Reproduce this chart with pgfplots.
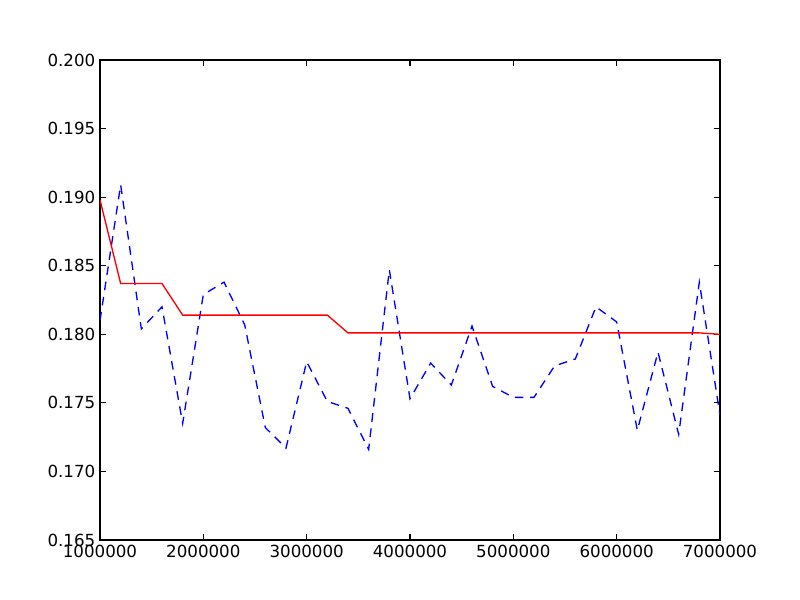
\documentclass[border=0pt]{standalone}
\usepackage{pgfplots}
\pgfplotsset{compat=1.18}
\usepackage{fontspec}
\setmainfont{DejaVu Sans}
\begin{document}
\begin{tikzpicture}
\begin{axis}[
  scale only axis,
  width=465pt, height=360pt,
  xmin=1000000, xmax=7000000,
  ymin=0.165, ymax=0.200,
  xtick={1000000,2000000,3000000,4000000,5000000,6000000,7000000},
  ytick={0.165,0.170,0.175,0.180,0.185,0.190,0.195,0.200},
  scaled x ticks=false, scaled y ticks=false,
  xticklabel style={/pgf/number format/fixed,/pgf/number format/1000 sep={}},
  yticklabel style={/pgf/number format/fixed,/pgf/number format/fixed zerofill,/pgf/number format/precision=3},
  /pgf/number format/assume math mode=true,
  tick label style={font=\fontsize{12.5}{15}\selectfont, text=black},
  tick align=inside,
  major tick length=4.2pt,
  tick style={black, line width=0.8pt},
  axis line style={black, line width=1pt},
  xtick pos=both, ytick pos=both,
  minor tick num=0,
  clip=true,
]
\addplot[blue, line width=1pt, dash pattern=on 6.5pt off 5pt] coordinates {
(1000000,0.1810) (1200000,0.1909) (1400000,0.1804) (1600000,0.1820)
(1800000,0.1735) (2000000,0.1829) (2200000,0.1838) (2400000,0.1807)
(2600000,0.1732) (2800000,0.1717) (3000000,0.1780) (3200000,0.1751)
(3400000,0.1746) (3600000,0.1716) (3800000,0.1847) (4000000,0.1753)
(4200000,0.1779) (4400000,0.1763) (4600000,0.1806) (4800000,0.1762)
(5000000,0.1754) (5200000,0.1754) (5400000,0.1777) (5600000,0.1782)
(5800000,0.1820) (6000000,0.1809) (6200000,0.1730) (6400000,0.1787)
(6600000,0.1727) (6800000,0.1838) (7000000,0.1741)
};
\addplot[red, line width=1pt] coordinates {
(1000000,0.1898) (1200000,0.1837) (1400000,0.1837) (1600000,0.1837)
(1800000,0.1814) (2000000,0.1814) (2200000,0.1814) (2400000,0.1814)
(2600000,0.1814) (2800000,0.1814) (3000000,0.1814) (3200000,0.1814)
(3400000,0.1801) (3600000,0.1801) (3800000,0.1801) (4000000,0.1801)
(4200000,0.1801) (4400000,0.1801) (4600000,0.1801) (4800000,0.1801)
(5000000,0.1801) (5200000,0.1801) (5400000,0.1801) (5600000,0.1801)
(5800000,0.1801) (6000000,0.1801) (6200000,0.1801) (6400000,0.1801)
(6600000,0.1801) (6800000,0.1801) (7000000,0.1800)
};
\end{axis}
\path[use as bounding box] (-75pt,-45pt) rectangle (525pt,405pt);
\end{tikzpicture}
\end{document}
